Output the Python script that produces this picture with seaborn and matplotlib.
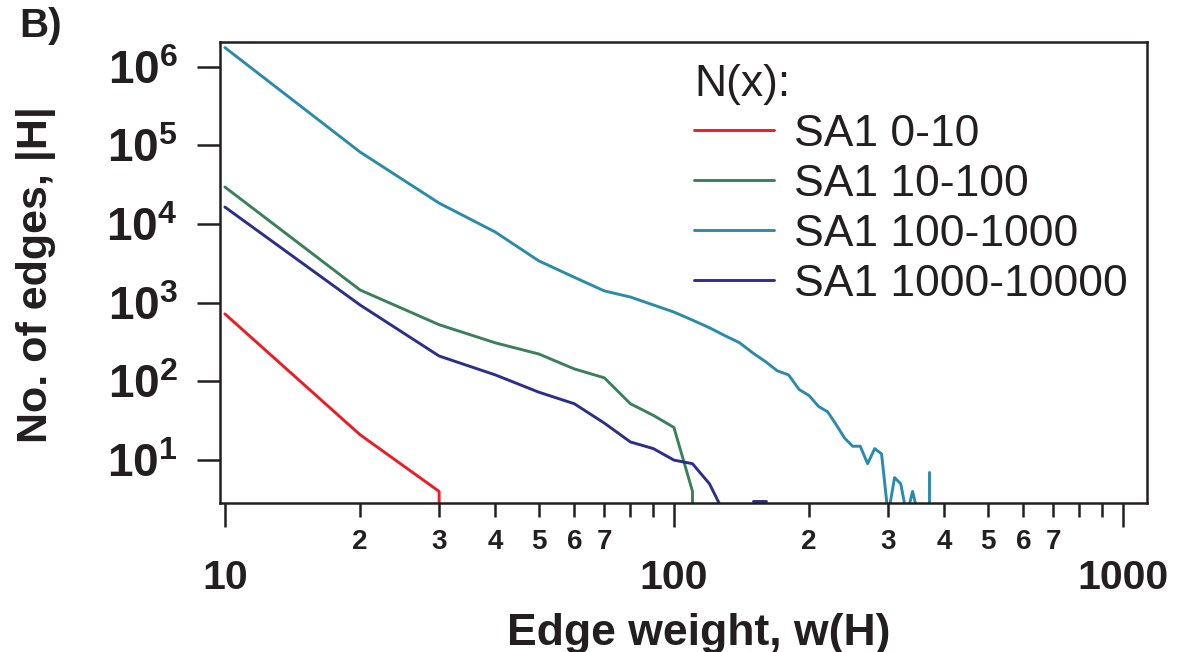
import numpy as np
import pandas as pd
import matplotlib
matplotlib.use("Agg")
import matplotlib.pyplot as plt
import matplotlib.ticker as mticker
import seaborn as sns

sns.set_style("ticks")
plt.rcParams["font.family"] = ["Liberation Sans", "DejaVu Sans"]
plt.rcParams["font.weight"] = "bold"
plt.rcParams["mathtext.default"] = "regular"

INK = "#231F20"

series_names = ["SA1 0-10", "SA1 10-100", "SA1 100-1000", "SA1 1000-10000"]
series_colors = ["#ED1C24", "#3A805A", "#2A8BAA", "#2B2E8C"]

# edge weight bins and counts per series (nan = empty bin -> gap)
w_0_10 = [10, 20, 30, 30]
n_0_10 = [720, 21, 4, 1]

w_10_100 = [10, 20, 30, 40, 50, 60, 70, 80, 90, 100, 110, 110]
n_10_100 = [29500, 1450, 525, 309, 223, 144, 111, 52, 37, 26, 4, 1]

w_100_1000 = [10, 20, 30, 40, 50, 60, 70, 80, 90, 100,
              110, 120, 130, 140, 150, 160, 170, 180, 190, 200,
              210, 220, 230, 240, 250, 260, 270, 280, 290, 300,
              310, 320, 330, 340, 350, 360, 370, 370]
n_100_1000 = [1.74e6, 82000, 18400, 7900, 3400, 2100, 1410, 1180, 935, 760,
              600, 480, 380, 310, 229, 178, 136, 121, 79, 66,
              48, 41, 28, 19, 15, 15, 9, 14, 12, 2,
              6, 5, 2, 4, 2, np.nan, 7, 2]

w_1000_10000 = [10, 20, 30, 40, 50, 60, 70, 80, 90, 100,
                110, 120, 130, 140, 150, 160, 170]
n_1000_10000 = [16400, 935, 210, 121, 73, 52, 29.5, 17, 14, 10,
                9, 5, 2, np.nan, 3, 3, np.nan]

x_major_labels = {10: "10", 100: "100", 1000: "1000"}
x_minor_labelled = [2, 3, 4, 5, 6, 7]

frames = []
for name, w, n in zip(series_names,
                      [w_0_10, w_10_100, w_100_1000, w_1000_10000],
                      [n_0_10, n_10_100, n_100_1000, n_1000_10000]):
    n = np.asarray(n, dtype=float)
    seg = np.cumsum(np.isnan(n))
    d = pd.DataFrame({"w": w, "n": n, "series": name, "seg": seg})
    frames.append(d.dropna())
df = pd.concat(frames, ignore_index=True)

fig = plt.figure(figsize=(11.8, 6.52), dpi=100)
ax = fig.add_axes([0.1864, 0.2285, 0.7856, 0.7071])
ax.set(xscale="log", yscale="log")

sns.lineplot(data=df, x="w", y="n", hue="series", units="seg",
             estimator=None, sort=False, hue_order=series_names,
             palette=dict(zip(series_names, series_colors)),
             linewidth=2.1, ax=ax)

ax.set_xlim(9.75, 1131)
ax.set_ylim(2.85, 2.05e6)

for s in ax.spines.values():
    s.set_linewidth(1.8)
    s.set_color(INK)

ax.xaxis.set_major_locator(mticker.LogLocator(base=10))
ax.xaxis.set_major_formatter(mticker.FuncFormatter(
    lambda v, p: x_major_labels.get(int(round(v)), "")))
ax.xaxis.set_minor_locator(mticker.LogLocator(base=10, subs=np.arange(2, 10)))


def minor_fmt(v, p):
    lead = int(round(v / 10 ** np.floor(np.log10(v) + 1e-9)))
    return str(lead) if lead in x_minor_labelled else ""


ax.xaxis.set_minor_formatter(mticker.FuncFormatter(minor_fmt))
ax.yaxis.set_major_locator(mticker.LogLocator(base=10, numticks=20))
ax.yaxis.set_major_formatter(mticker.FuncFormatter(
    lambda v, p: r"$\mathregular{10^{%d}}$" % int(round(np.log10(v)))))
ax.yaxis.set_minor_locator(mticker.NullLocator())

ax.tick_params(axis="x", which="major", length=17, width=1.8, pad=23,
               labelsize=29.5, color=INK, labelcolor=INK)
ax.tick_params(axis="x", which="minor", length=10, width=1.8, pad=9,
               labelsize=20, color=INK, labelcolor=INK)
ax.tick_params(axis="y", which="major", length=16.5, width=1.8, pad=14,
               labelsize=33, color=INK, labelcolor=INK)

ax.set_xlabel("Edge weight, w(H)", fontsize=32, fontweight="bold", color=INK)
ax.set_ylabel("No. of edges, |H|", fontsize=31, fontweight="bold", color=INK)
ax.xaxis.set_label_coords(0.517, -0.238)
ax.yaxis.set_label_coords(-0.177, 0.495)

handles, labels = ax.get_legend_handles_labels()
leg = ax.legend(handles, labels, title="N(x):", loc="upper left",
                bbox_to_anchor=(0.5113, 0.952), frameon=False,
                prop={"weight": "normal", "size": 32},
                title_fontproperties={"weight": "normal", "size": 32},
                handlelength=1.8, handletextpad=0.45, labelspacing=0.2,
                borderpad=0, borderaxespad=0, alignment="left")
for t in leg.get_texts():
    t.set_color(INK)
leg.get_title().set_color(INK)
for h in leg.legend_handles:
    h.set_linewidth(2.1)

fig.text(0.016, 0.989, "B)", fontsize=29, va="top", ha="left", color=INK)

fig.savefig("out.png", dpi=100)
